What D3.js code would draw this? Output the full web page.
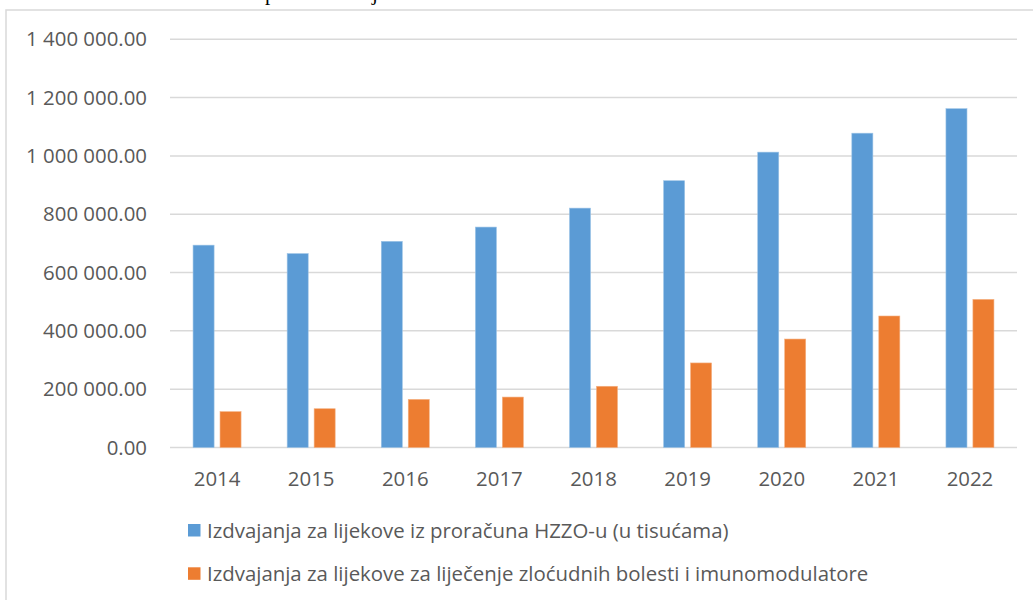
<!DOCTYPE html>
<html>
<head>
<meta charset="utf-8">
<script src="https://cdn.jsdelivr.net/npm/d3@7"></script>
<style>
  body { margin: 0; background: #fff; }
  svg { display: block; }
</style>
</head>
<body>
<svg width="1033" height="600"></svg>
<script>
var years = ["2014", "2015", "2016", "2017", "2018", "2019", "2020", "2021", "2022"]
var hzzo = [694000, 665000, 707000, 756000, 821000, 915000, 1013000, 1078000, 1162000]
var zlocudne = [123000, 133000, 165000, 173000, 210000, 290000, 372000, 451000, 508000]
var seriesNames = [
    "Izdvajanja za lijekove iz proračuna HZZO-u (u tisućama)",
    "Izdvajanja za lijekove za liječenje zloćudnih bolesti i imunomodulatore"
]
var yTicks = [0, 200000, 400000, 600000, 800000, 1000000, 1200000, 1400000]

var colors = ["#5b9bd5", "#ed7d31"]
var textColor = "#595959"
var font = "'Open Sans', sans-serif"
var fs = 20.4

var svg = d3.select("svg")

// frame of the chart area, only top and left edges show
svg.append("rect")
    .attr("x", 6).attr("y", 10)
    .attr("width", 1200).attr("height", 800)
    .attr("fill", "none")
    .attr("stroke", "#d9d9d9")
    .attr("stroke-width", 1.5)

// bits of the cut-off heading above the frame
svg.append("text").attr("x", 265).attr("y", -0.5)
    .attr("font-family", "'Liberation Serif', serif").attr("font-size", 21)
    .text("p")
svg.append("text").attr("x", 372).attr("y", -0.5)
    .attr("font-family", "'Liberation Serif', serif").attr("font-size", 21)
    .text("j")

var x = d3.scaleBand().domain(years).range([170, 1017])
var x1 = d3.scaleBand().domain([0, 1]).paddingInner(0.22).range([0, 48])
var y = d3.scaleLinear().domain([0, 1400000]).range([447.5, 39.3])

var locale = d3.formatLocale({ decimal: ".", thousands: " ", grouping: [3], currency: ["", ""] })
var fmt = locale.format(",.2f")

// gridlines
svg.append("g").selectAll("line")
    .data(yTicks).join("line")
    .attr("x1", 170).attr("x2", 1017)
    .attr("y1", function(d) { return y(d) }).attr("y2", function(d) { return y(d) })
    .attr("stroke", "#d9d9d9")
    .attr("stroke-width", 1.5)

// y axis labels
var yAxis = svg.append("g")
    .attr("transform", "translate(147,0)")
    .call(d3.axisLeft(y).tickValues(yTicks).tickFormat(fmt).tickSize(0).tickPadding(0))
yAxis.select(".domain").remove()
yAxis.selectAll("text")
    .attr("font-family", font).attr("font-size", fs)
    .attr("fill", textColor)

// x axis labels
var xAxis = svg.append("g")
    .attr("transform", "translate(0,447.5)")
    .call(d3.axisBottom(x).tickSize(0).tickPadding(0))
xAxis.select(".domain").remove()
xAxis.selectAll("text")
    .attr("dy", null)
    .attr("y", 38)
    .attr("font-family", font).attr("font-size", fs)
    .attr("fill", textColor)

// bars
var rows = years.map(function(yr, i) { return { year: yr, vals: [hzzo[i], zlocudne[i]] } })
var groups = svg.append("g").selectAll("g")
    .data(rows).join("g")
    .attr("transform", function(d) { return "translate(" + (x(d.year) + x.bandwidth()/2 - 24) + ",0)" })
groups.selectAll("rect")
    .data(function(d) { return d.vals.map(function(v, k) { return { k: k, v: v } }) })
    .join("rect")
    .attr("x", function(d) { return x1(d.k) })
    .attr("width", x1.bandwidth())
    .attr("y", function(d) { return y(d.v) })
    .attr("height", function(d) { return y(0) - y(d.v) })
    .attr("fill", function(d) { return colors[d.k] })
    .attr("stroke", function(d) { return d.k == 0 ? "#9cc3e6" : "#f4b183" })
    .attr("stroke-width", 0.6)

// legend
var legend = svg.append("g").selectAll("g")
    .data(seriesNames).join("g")
    .attr("transform", function(d, i) { return "translate(188," + (524 + i*43.3) + ")" })
legend.append("rect")
    .attr("width", 12.5).attr("height", 12.5)
    .attr("fill", function(d, i) { return colors[i] })
legend.append("text")
    .attr("x", 19).attr("y", 14)
    .attr("font-family", font).attr("font-size", fs)
    .attr("fill", textColor)
    .text(function(d) { return d })
</script>
</body>
</html>
